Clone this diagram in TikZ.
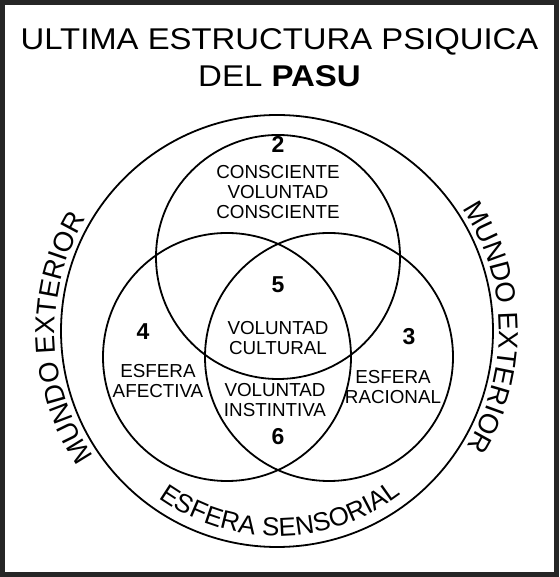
\documentclass[tikz,border=0pt]{standalone}
\usepackage{fontspec}
\setmainfont{Liberation Sans}
\usetikzlibrary{decorations.text}
\tikzset{
  ring/.style={draw=black, line width=1.8pt},
  label/.style={font=\fontsize{18.8}{20}\selectfont, align=center, inner sep=0pt},
  num/.style={font=\fontsize{23}{23}\selectfont\bfseries, inner sep=0pt},
  titletext/.style={font=\fontsize{30}{33}\selectfont, inner sep=0pt}
}
\begin{document}
\begin{tikzpicture}[x=1pt,y=1pt]
\useasboundingbox (0,0) rectangle (559,577);
\draw[line width=4.5pt, draw=black!85] (2.5,2.5) rectangle (556.5,574.5);
% title
\node[titletext] (t1) at (279.5,535) {\scalebox{1.095}[1]{ULTIMA ESTRUCTURA PSIQUICA}};
\node[titletext] (t2) at (279.5,501) {\scalebox{1.1}[1]{DEL \textbf{PASU}}};
% circles
\coordinate (cB) at (277,246);
\coordinate (cT) at (278,320);
\coordinate (cL) at (227,220);
\coordinate (cR) at (329,220);
\draw[ring] (cB) circle[radius=216];
\draw[ring] (cT) circle[radius=122];
\draw[ring] (cL) circle[radius=124];
\draw[ring] (cR) circle[radius=124];
% labels
\node[num] (n2) at (278,433) {2};
\node[label] (l2) at (278,385) {CONSCIENTE\\VOLUNTAD\\CONSCIENTE};
\node[num] (n5) at (278,292) {5};
\node[label] (l5) at (278,239) {VOLUNTAD\\CULTURAL};
\node[label] (l6) at (275,177) {VOLUNTAD\\INSTINTIVA};
\node[num] (n6) at (278,140) {6};
\node[num] (n4) at (143,245) {4};
\node[label] (l4) at (158,196) {ESFERA\\AFECTIVA};
\node[num] (n3) at (409,240) {3};
\node[label] (l3) at (393,190) {ESFERA\\RACIONAL};
% curved texts
\path[decorate, decoration={text along path, text align=center,
  text={|\fontsize{27.5}{27.5}\selectfont|MUNDO EXTERIOR}}]
  (cB) ++(218:222) arc[start angle=218, end angle=146, radius=222];
\path[decorate, decoration={text along path, text align=center,
  text={|\fontsize{27.5}{27.5}\selectfont|MUNDO EXTERIOR}}]
  (cB) ++(36:222) arc[start angle=36, end angle=-34, radius=222];
\path[decorate, decoration={text along path, text align=center,
  text={|\fontsize{26}{26}\selectfont|ESFERA SENSORIAL}}]
  (cB) ++(230:205) arc[start angle=230, end angle=312, radius=205];
\end{tikzpicture}
\end{document}
